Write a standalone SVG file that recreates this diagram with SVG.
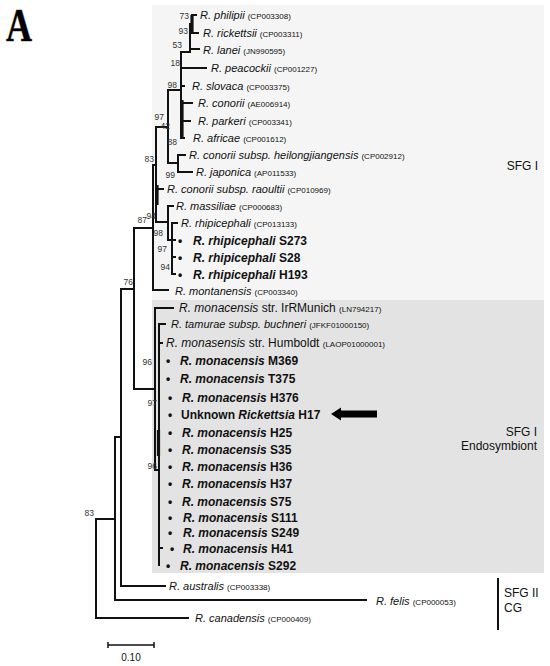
<svg xmlns="http://www.w3.org/2000/svg" width="550" height="666" viewBox="0 0 550 666">
<style>
.sp{font-family:"Liberation Sans",Arial,sans-serif;font-size:11px;font-style:italic;fill:#111}
.sp12{font-family:"Liberation Sans",Arial,sans-serif;font-size:12px;font-style:italic;fill:#111}
.n{font-style:normal}
.acc{font-style:normal;font-size:8px}
.b{font-family:"Liberation Sans",Arial,sans-serif;font-size:12px;font-weight:bold;fill:#111}
.i{font-style:italic}
.bs{font-family:"Liberation Sans",Arial,sans-serif;font-size:8.5px;fill:#333;text-anchor:end}
.grp{font-family:"Liberation Sans",Arial,sans-serif;font-size:12px;fill:#111}
.ln{stroke:#111;stroke-width:2;fill:none;stroke-linecap:square}
.th{stroke:#111;stroke-width:3.2;fill:none}
</style>
<rect width="550" height="666" fill="#fff"/>
<g id="panel-letter">
<text x="6" y="41" font-family="Liberation Serif,Times New Roman,serif" font-size="46" font-weight="bold" textLength="26" lengthAdjust="spacingAndGlyphs" fill="#000" stroke="#aaa" stroke-width="1.2" paint-order="stroke">A</text>
</g>
<g id="sfg1-box"><rect x="152" y="5" width="392" height="295" fill="#f5f5f5"/></g>
<g id="endo-box"><rect x="152" y="300" width="392" height="273" fill="#e3e3e3"/></g>

<g id="connectors">
<path class="th" d="M192 15V33"/>
<path class="ln" d="M192 15H196M192 33H198M190 24H192M190 24V50M190 49H199M181 52H190M181 52V138M181 68H206M181 86H184M181 103H192M181 121H190M181 138H184"/>
<path class="th" d="M182 100V138"/>
<path class="ln" d="M168 90H181M168 90V163M168 163H178M178 155V172M178 155H185M178 172H192"/>
<path class="ln" d="M156 127H168M156 127V222M156 189H163M153 165H156"/>
<path class="th" d="M157 185V205"/>
<path class="ln" d="M156 222H168M168 206V240M168 206H173M168 240H172M172 223V274M172 223H177M172 240H175M172 257H175M172 274H175"/>
<path class="ln" d="M153 165V290M153 290H168M134 228H153"/>
<path class="ln" d="M134 228V389M121 289H134M134 389H155"/>
<path class="ln" d="M155 308V470M155 308H173M155 470H159M159 324V565M159 324H165M159 343H162M159 548H162"/>
<path class="th" d="M158.5 430V456"/>
<path class="ln" d="M121 289V586M121 586H165M115 437H121M115 437V600M115 600H366M96 519H115M96 519V618M96 618H188"/>
</g>

<g id="bootstrap">
<text class="bs" x="189" y="19">73</text>
<text class="bs" x="188" y="34">93</text>
<text class="bs" x="182" y="48">53</text>
<text class="bs" x="180" y="66">18</text>
<text class="bs" x="177" y="88">98</text>
<text class="bs" x="164" y="119.5">97</text>
<text class="bs" x="170" y="129">42</text>
<text class="bs" x="177" y="145">88</text>
<text class="bs" x="175" y="178">99</text>
<text class="bs" x="154" y="162">83</text>
<text class="bs" x="147" y="223">87</text>
<text class="bs" x="156" y="219">94</text>
<text class="bs" x="163" y="236">98</text>
<text class="bs" x="167" y="252">97</text>
<text class="bs" x="170" y="270">94</text>
<text class="bs" x="133" y="285">76</text>
<text class="bs" x="152" y="365">96</text>
<text class="bs" x="157" y="406">97</text>
<text class="bs" x="157" y="469">96</text>
<text class="bs" x="94" y="516">83</text>
</g>

<g id="leaf-philipii"><text class="sp" x="200" y="19">R. philipii <tspan class="acc">(CP003308)</tspan></text></g>
<g id="leaf-rickettsii"><text class="sp" x="203" y="37">R. rickettsii <tspan class="acc">(CP003311)</tspan></text></g>
<g id="leaf-lanei"><text class="sp" x="203" y="54">R. lanei <tspan class="acc">(JN990595)</tspan></text></g>
<g id="leaf-peacockii"><text class="sp" x="211" y="72">R. peacockii <tspan class="acc">(CP001227)</tspan></text></g>
<g id="leaf-slovaca"><text class="sp" x="192" y="90">R. slovaca <tspan class="acc">(CP003375)</tspan></text></g>
<g id="leaf-conorii"><text class="sp" x="198" y="107">R. conorii <tspan class="acc">(AE006914)</tspan></text></g>
<g id="leaf-parkeri"><text class="sp" x="198" y="125">R. parkeri <tspan class="acc">(CP003341)</tspan></text></g>
<g id="leaf-africae"><text class="sp" x="193" y="142">R. africae <tspan class="acc">(CP001612)</tspan></text></g>
<g id="leaf-heilongjiangensis"><text class="sp" x="189" y="159">R. conorii subsp. heilongjiangensis <tspan class="acc">(CP002912)</tspan></text></g>
<g id="leaf-japonica"><text class="sp" x="196" y="176">R. japonica <tspan class="acc">(AP011533)</tspan></text></g>
<g id="leaf-raoultii"><text class="sp" x="167" y="193">R. conorii subsp. raoultii <tspan class="acc">(CP010969)</tspan></text></g>
<g id="leaf-massiliae"><text class="sp" x="176" y="210">R. massiliae <tspan class="acc">(CP000683)</tspan></text></g>
<g id="leaf-rhipicephali"><text class="sp" x="181" y="227">R. rhipicephali <tspan class="acc">(CP013133)</tspan></text></g>
<g id="leaf-S273"><text class="b" x="178" y="244.5">•<tspan x="193" class="i">R. rhipicephali</tspan> S273</text></g>
<g id="leaf-S28"><text class="b" x="178" y="261.5">•<tspan x="193" class="i">R. rhipicephali</tspan> S28</text></g>
<g id="leaf-H193"><text class="b" x="178" y="278.5">•<tspan x="193" class="i">R. rhipicephali</tspan> H193</text></g>
<g id="leaf-montanensis"><text class="sp" x="175" y="295">R. montanensis <tspan class="acc">(CP003340)</tspan></text></g>
<g id="label-sfg1"><text class="grp" x="538" y="170" text-anchor="end">SFG I</text></g>

<g id="leaf-IrRMunich"><text class="sp12" x="179" y="312">R. monacensis<tspan class="n"> str. IrRMunich </tspan><tspan class="acc">(LN794217)</tspan></text></g>
<g id="leaf-tamurae"><text class="sp" x="171" y="328">R. tamurae subsp. buchneri <tspan class="acc">(JFKF01000150)</tspan></text></g>
<g id="leaf-Humboldt"><text class="sp12" x="166" y="347">R. monasensis<tspan class="n"> str. Humboldt </tspan><tspan class="acc" font-size="8.5">(LAOP01000001)</tspan></text></g>
<g id="leaf-M369"><text class="b" x="166" y="364.5">•<tspan x="180" class="i">R. monacensis</tspan> M369</text></g>
<g id="leaf-T375"><text class="b" x="166" y="382.5">•<tspan x="180" class="i">R. monacensis</tspan> T375</text></g>
<g id="leaf-H376"><text class="b" x="168" y="401.5">•<tspan x="182" class="i">R. monacensis</tspan> H376</text></g>
<g id="leaf-H17"><text class="b" x="168" y="418.5">•<tspan x="181">Unknown </tspan><tspan class="i">Rickettsia</tspan> H17</text></g>
<g id="arrow"><polygon points="331,414 341,407.5 341,410.5 377,410.5 377,417.5 341,417.5 341,420.5" fill="#000"/></g>
<g id="leaf-H25"><text class="b" x="168" y="436.5">•<tspan x="182" class="i">R. monacensis</tspan> H25</text></g>
<g id="leaf-S35"><text class="b" x="168" y="453.5">•<tspan x="182" class="i">R. monacensis</tspan> S35</text></g>
<g id="leaf-H36"><text class="b" x="168" y="470.5">•<tspan x="182" class="i">R. monacensis</tspan> H36</text></g>
<g id="leaf-H37"><text class="b" x="168" y="487.5">•<tspan x="182" class="i">R. monacensis</tspan> H37</text></g>
<g id="leaf-S75"><text class="b" x="168" y="505.5">•<tspan x="182" class="i">R. monacensis</tspan> S75</text></g>
<g id="leaf-S111"><text class="b" x="168" y="521.5">•<tspan x="183" class="i">R. monacensis</tspan> S111</text></g>
<g id="leaf-S249"><text class="b" x="168" y="536.5">•<tspan x="183" class="i">R. monacensis</tspan> S249</text></g>
<g id="leaf-H41"><text class="b" x="170" y="552.5">•<tspan x="183" class="i">R. monacensis</tspan> H41</text></g>
<g id="leaf-S292"><text class="b" x="166" y="569.5">•<tspan x="180" class="i">R. monacensis</tspan> S292</text></g>
<g id="label-endo"><text class="grp" x="537" y="436" text-anchor="end">SFG I</text><text class="grp" x="537" y="450" text-anchor="end">Endosymbiont</text></g>

<g id="leaf-australis"><text class="sp" x="169" y="590">R. australis <tspan class="acc">(CP003338)</tspan></text></g>
<g id="leaf-felis"><text class="sp" x="376" y="605">R. felis <tspan class="acc">(CP000053)</tspan></text></g>
<g id="leaf-canadensis"><text class="sp" x="195" y="622">R. canadensis <tspan class="acc">(CP000409)</tspan></text></g>
<g id="label-sfg2"><path d="M498 578V630" stroke="#111" stroke-width="2"/><text class="grp" x="504" y="597">SFG II</text><text class="grp" x="504" y="612">CG</text></g>
<g id="scale-bar"><path d="M108 645H154M108 642V648M154 642V648" stroke="#111" stroke-width="1.5" fill="none"/><text x="131" y="661" text-anchor="middle" font-family="Liberation Sans,Arial,sans-serif" font-size="10" fill="#111">0.10</text></g>
</svg>
